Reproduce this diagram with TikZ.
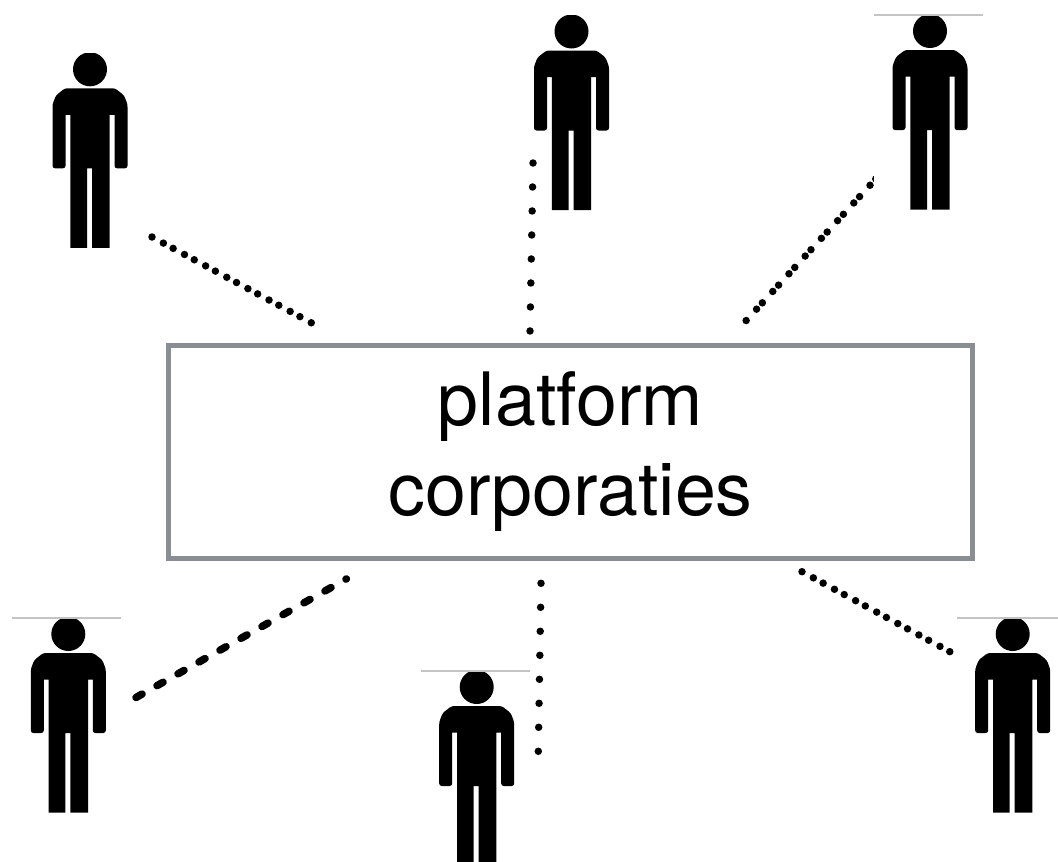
\documentclass[tikz,border=0pt]{standalone}
\usepackage{fontspec}
\setmainfont{TeX Gyre Heros}
\definecolor{boxgray}{HTML}{8A8E92}
\definecolor{rulegray}{HTML}{C4C4C4}
\tikzset{
    bodyfill/.style={fill=black,draw=none},
    headrule/.style={draw=rulegray,line width=1.3pt},
    platform/.style={draw=boxgray,fill=white,line width=5pt,minimum width=804pt,minimum height=213pt,align=center,inner sep=0pt,font=\fontsize{73.6}{90}\selectfont},
    link/.style={draw=black,line width=7.5pt,line cap=round},
    singledots/.style={link,dash pattern=on 0pt off 24pt},
    longpairs/.style={link,dash pattern=on 0pt off 12.9pt on 0pt off 11.1pt},
    shortpairs/.style={link,dash pattern=on 0pt off 8.6pt on 0pt off 15.4pt},
    stripes/.style={link,dash pattern=on 7pt off 17.1pt},
    pics/person/.style={code={
        \fill [white] (-56,-16) rectangle (53,178.5);
        \begin{scope}
            \clip (-20,-15.7) rectangle (20,18);
            \fill [bodyfill] (0,0) circle (17);
        \end{scope}
        \fill [bodyfill,rounded corners=2.5pt] (-25,19) -- (25,19) -- (34,26) -- (37.5,35) -- (37.5,99) -- (24.5,99) [sharp corners] -- (24.5,45.5) -- (19.7,45.5) -- (19.7,178.5) -- (2,178.5) -- (2,99) -- (-3,99) -- (-3,178.5) -- (-19.7,178.5) -- (-19.7,45.5) -- (-24.5,45.5) [rounded corners=2.5pt] -- (-24.5,99) -- (-37.5,99) -- (-37.5,35) -- (-34,26) -- cycle;
    }},
    pics/lined person/.style={code={
        \pic {person};
        \draw [headrule] (-56,-16) -- (53,-16);
    }},
}

\begin{document}
\begin{tikzpicture}[x=1pt,y=-1pt]
    \useasboundingbox (0,0) rectangle (1058,862);

    \coordinate (a1) at (152,237);
    \coordinate (b1) at (321,328);
    \coordinate (a2) at (533,163);
    \coordinate (b2) at (530,331.1);
    \coordinate (a3) at (746,320.7);
    \coordinate (b3) at (875.8,178.9);
    \coordinate (a4) at (136,697.5);
    \coordinate (b4) at (346.4,578.9);
    \coordinate (a5) at (541,583.3);
    \coordinate (b5) at (538.3,751.4);
    \coordinate (a6) at (802,571.7);
    \coordinate (b6) at (950,651.8);

    \path   (b3) edge [shortpairs] (a3);

    \pic            (p1) at (90,69.3)    {person};
    \pic            (p2) at (571.5,31.5) {person};
    \pic            (p3) at (930,31)     {lined person};
    \pic            (p4) at (68.3,634)   {lined person};
    \pic            (p5) at (476.7,687)  {lined person};
    \pic            (p6) at (1012.7,634) {lined person};

    \node   [platform]  (box) at (570.5,451.5) {platform\\corporaties};

    \path   (a1) edge [longpairs] (b1)
    (a2) edge [singledots] (b2)
    (a4) edge [stripes] (b4)
    (a5) edge [singledots] (b5)
    (a6) edge [longpairs] (b6);
\end{tikzpicture}
\end{document}
